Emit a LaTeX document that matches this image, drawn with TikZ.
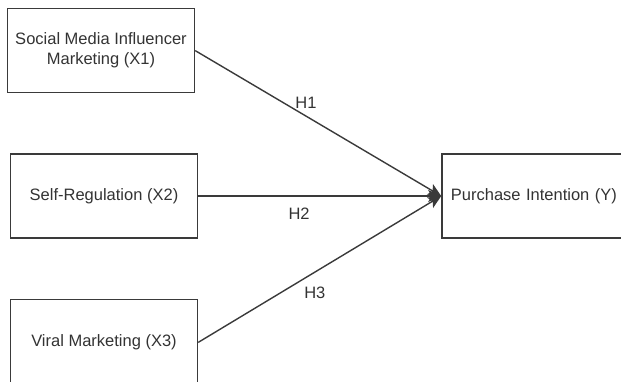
\documentclass[tikz,border=0pt]{standalone}
\usepackage{fontspec}
\setmainfont{Liberation Sans}
\usetikzlibrary{positioning,arrows.meta}
\definecolor{linegray}{HTML}{3A3A3A}
\definecolor{textgray}{HTML}{333333}

\begin{document}
\begin{tikzpicture}[x=1pt,y=1pt]
    \tikzstyle{every node}=[font=\fontsize{16.5}{20}\selectfont, text=textgray]
    \tikzstyle{factor}=[
        draw=linegray,
        line width=1.4pt,
        minimum width=187pt,
        minimum height=84pt,
        inner sep=0pt,
        align=center]
    \tikzstyle{hyp}=[
        draw=linegray,
        line width=1.4pt,
        -{Stealth[length=13pt,width=12pt,inset=3pt]}]

    \useasboundingbox (0,0) rectangle (621,-381);
    \clip (0,0) rectangle (621,-381);

    \node[factor] (x2) at (104,-196) {Self-Regulation (X2)};
    \node[factor, above=60pt of x2, xshift=-3pt] (x1) {Social Media Influencer\\Marketing (X1)};
    \node[factor, below=60pt of x2, minimum height=86pt] (x3) {Viral Marketing (X3)};
    \node[factor, right=243pt of x2, minimum width=200pt, text width=182pt, align=left] (y) {Purchase Intention (Y)};
    \path (x1.east) edge[hyp] node[pos=0.45,above,yshift=4pt]{H1} (y.west)
          (x2.east) edge[hyp] node[pos=0.415,below,yshift=-8pt]{H2} (y.west)
          (x3.east) edge[hyp] node[pos=0.48,below,yshift=-11pt]{H3} (y.west);
\end{tikzpicture}
\end{document}
